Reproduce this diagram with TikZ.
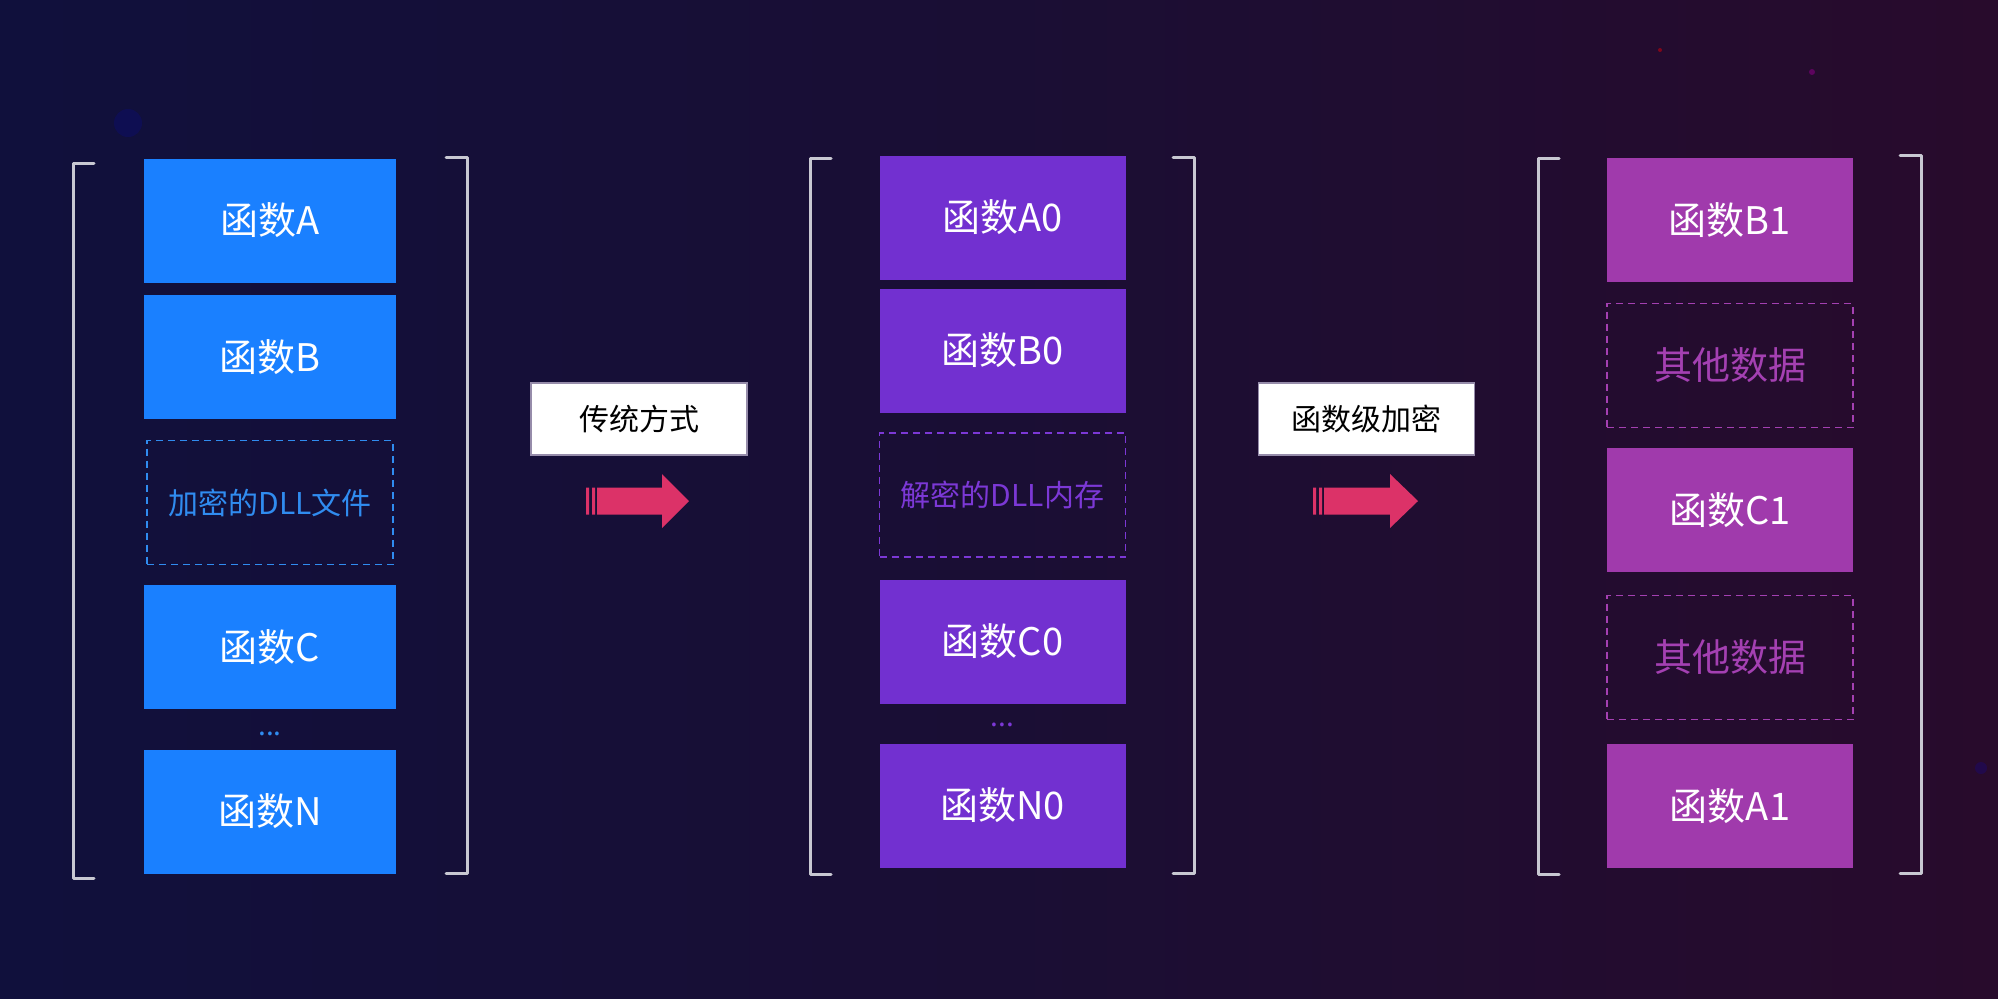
\documentclass[tikz,border=0pt]{standalone}
\usepackage{fontspec}
\setmainfont{Noto Sans CJK SC}
\usetikzlibrary{positioning}

\definecolor{bgL}{RGB}{16,16,60}
\definecolor{bgM}{RGB}{26,14,52}
\definecolor{bgR}{RGB}{40,11,44}
\definecolor{blueF}{RGB}{26,128,255}
\definecolor{blueD}{RGB}{48,140,240}
\definecolor{violF}{RGB}{114,48,208}
\definecolor{violD}{RGB}{124,56,214}
\definecolor{magF}{RGB}{160,58,172}
\definecolor{magD}{RGB}{164,64,178}
\definecolor{brkc}{RGB}{200,200,210}
\definecolor{tagc}{RGB}{150,140,170}
\definecolor{arrc}{RGB}{220,50,104}

\begin{document}
\begin{tikzpicture}[x=0.5pt, y=-0.5pt,
    fn/.style={rectangle, inner sep=0pt, minimum width=123pt, minimum height=62pt,
      text=white, font=\fontsize{19}{21}\selectfont},
    gap/.style={rectangle, inner sep=0pt, minimum width=123pt, minimum height=62pt,
      dash pattern=on 3.5pt off 2.5pt, line width=0.9pt},
    tag/.style={rectangle, fill=white, draw=tagc, line width=0.6pt, inner sep=0pt,
      minimum width=108pt, minimum height=36pt, text=black, font=\fontsize{15}{17}\selectfont},
    brk/.style={draw=brkc, line width=1.5pt, line cap=round, line join=round}]
    % Background
    \useasboundingbox (0,0) rectangle (1998,998);
    \shade[left color=bgL, right color=bgR, middle color=bgM] (0,0) rectangle (1998,998);
    \fill[blue!40!bgL, opacity=0.3] (128,123) circle (14);
    \fill[violet!60!bgR] (1812,72) circle (3);
    \fill[red!40!bgR] (1660,50) circle (2);
    \fill[blue!30!bgR, opacity=0.5] (1981,768) circle (6);

    % Encrypted DLL file
    \draw[brk] (94,163) -- (73,163) -- (73,878) -- (94,878);
    \draw[brk] (446,157) -- (467,157) -- (467,873) -- (446,873);
    \node[fn, fill=blueF, minimum width=126pt] (fA) at (270,220.5) {函数A};
    \node[fn, fill=blueF, minimum width=126pt] (fB) at (270,357) {函数B};
    \node[gap, draw=blueD, text=blueD, font=\fontsize{15}{17}\selectfont] (encL) at (270,502.5) {加密的DLL文件};
    \node[fn, fill=blueF, minimum width=126pt] (fC) at (270,647) {函数C};
    \node[text=blueD, font=\fontsize{14}{16}\selectfont, inner sep=0pt] (dotL) at (270,734) {...};
    \node[fn, fill=blueF, minimum width=126pt] (fN) at (270,811.5) {函数N};

    % Decrypted DLL in memory
    \draw[brk] (831,158) -- (810,158) -- (810,874) -- (831,874);
    \draw[brk] (1173,157) -- (1194,157) -- (1194,873) -- (1173,873);
    \node[fn, fill=violF] (fA0) at (1002.5,217.5) {函数A0};
    \node[fn, fill=violF] (fB0) at (1002.5,350.5) {函数B0};
    \node[gap, draw=violD, text=violD, font=\fontsize{15}{17}\selectfont] (decM) at (1002.5,495) {解密的DLL内存};
    \node[fn, fill=violF] (fC0) at (1002.5,641.5) {函数C0};
    \node[text=violD, font=\fontsize{14}{16}\selectfont, inner sep=0pt] (dotM) at (1002.5,725) {...};
    \node[fn, fill=violF] (fN0) at (1002.5,805.5) {函数N0};

    % Function level encryption
    \draw[brk] (1559,158) -- (1538,158) -- (1538,874) -- (1559,874);
    \draw[brk] (1900,155) -- (1921,155) -- (1921,873) -- (1900,873);
    \node[fn, fill=magF] (fB1) at (1730,220) {函数B1};
    \node[gap, draw=magD, text=magD, font=\fontsize{19}{21}\selectfont] (oth1) at (1730,365.5) {其他数据};
    \node[fn, fill=magF] (fC1) at (1730,510) {函数C1};
    \node[gap, draw=magD, text=magD, font=\fontsize{19}{21}\selectfont] (oth2) at (1730,657.5) {其他数据};
    \node[fn, fill=magF] (fA1) at (1730,806) {函数A1};

    % Steps
    \node[tag] (way1) at (639,419) {传统方式};
    \node[tag] (way2) at (1366.5,419) {函数级加密};
    \begin{scope}[shift={(586,501)}]
      \fill[arrc] (0,-13.5) rectangle (3,13.5) (6,-13.5) rectangle (9,13.5);
      \fill[arrc] (11,-13.5) -- (76,-13.5) -- (76,-27) -- (103,0) -- (76,27) -- (76,13.5) -- (11,13.5) -- cycle;
    \end{scope}
    \begin{scope}[shift={(1313,501)}]
      \fill[arrc] (0,-13.5) rectangle (3,13.5) (6,-13.5) rectangle (9,13.5);
      \fill[arrc] (11,-13.5) -- (77,-13.5) -- (77,-27) -- (105,0) -- (77,27) -- (77,13.5) -- (11,13.5) -- cycle;
    \end{scope}
\end{tikzpicture}
\end{document}
